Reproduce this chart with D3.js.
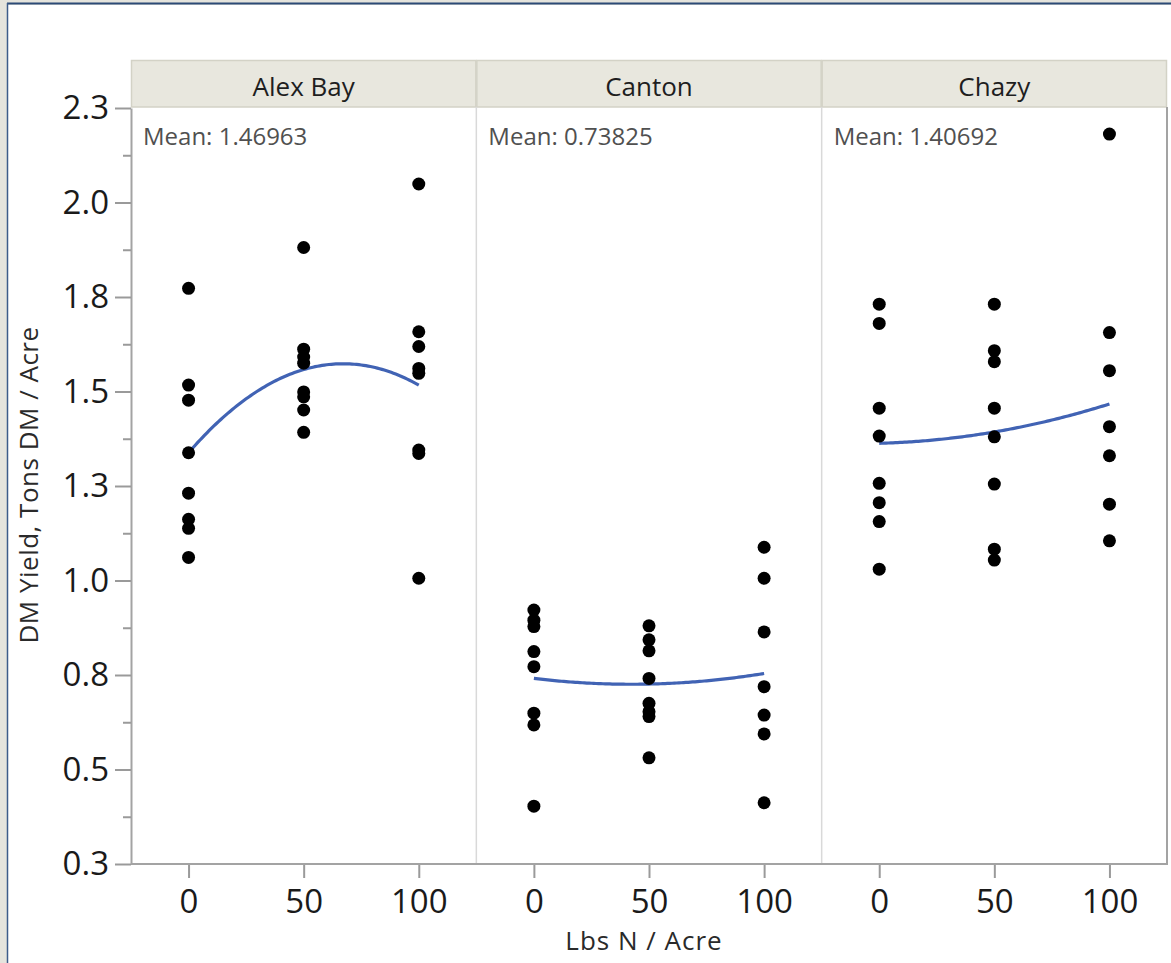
<!DOCTYPE html>
<html><head><meta charset="utf-8">
<script src="https://cdn.jsdelivr.net/npm/d3@7"></script>
<style>body{margin:0;background:#fff}svg{display:block}</style>
</head><body>
<svg id="c" width="1171" height="963"></svg>
<script>
// ---- data ----
const sites = ["Alex Bay", "Canton", "Chazy"];
const meanLabels = ["Mean: 1.46963", "Mean: 0.73825", "Mean: 1.40692"];
const nLevels = [0, 50, 100];
const xTickLabels = ["0", "50", "100"];
const yTickValues = [0.25, 0.5, 0.75, 1.0, 1.25, 1.5, 1.75, 2.0, 2.25];
const yTickLabels = ["0.3", "0.5", "0.8", "1.0", "1.3", "1.5", "1.8", "2.0", "2.3"];
const yMinorValues = [0.375, 0.625, 0.875, 1.125, 1.375, 1.625, 1.875, 2.125];

const alexBayN0   = [1.773, 1.517, 1.477, 1.338, 1.231, 1.162, 1.138, 1.061];
const alexBayN50  = [1.881, 1.612, 1.591, 1.575, 1.499, 1.486, 1.451, 1.392];
const alexBayN100 = [2.049, 1.658, 1.619, 1.561, 1.548, 1.345, 1.336, 1.006];
const cantonN0    = [0.922, 0.895, 0.878, 0.812, 0.772, 0.649, 0.618, 0.403];
const cantonN50   = [0.880, 0.843, 0.814, 0.741, 0.675, 0.653, 0.640, 0.531];
const cantonN100  = [1.088, 1.006, 0.864, 0.719, 0.644, 0.594, 0.412];
const chazyN0     = [1.731, 1.680, 1.456, 1.382, 1.257, 1.206, 1.156, 1.030];
const chazyN50    = [1.731, 1.608, 1.579, 1.456, 1.380, 1.255, 1.083, 1.054];
const chazyN100   = [2.181, 1.656, 1.555, 1.407, 1.330, 1.202, 1.105];

// quadratic fit values at N = 0, 50, 100
const fitAlexBay = [1.338, 1.558, 1.517];
const fitCanton  = [0.741, 0.726, 0.754];
const fitChazy   = [1.363, 1.393, 1.467];

const siteYields = [
  [alexBayN0, alexBayN50, alexBayN100],
  [cantonN0, cantonN50, cantonN100],
  [chazyN0, chazyN50, chazyN100]
];
const siteFits = [fitAlexBay, fitCanton, fitChazy];

// ---- layout ----
const svg = d3.select("#c");
const FONT = "'Open Sans', 'Noto Sans', sans-serif";
const plotL = 131, plotR = 1167, plotT = 108, plotB = 864, headT = 60;
const pw = (plotR - plotL) / 3;

// window frame
svg.append("rect").attr("width", 1171).attr("height", 963).attr("fill", "#e5e4dd");
svg.append("rect").attr("x", 8).attr("y", 5).attr("width", 1163).attr("height", 958).attr("fill", "#fff");
svg.append("line").attr("x1", 7).attr("x2", 1171).attr("y1", 3.5).attr("y2", 3.5)
  .attr("stroke", "#2c4a77").attr("stroke-width", 2);
svg.append("line").attr("x1", 7.5).attr("x2", 7.5).attr("y1", 3).attr("y2", 963)
  .attr("stroke", "#3d5c8a").attr("stroke-width", 1.5);

const y = d3.scaleLinear().domain([0.25, 2.25]).range([plotB, plotT]);

function lagrange(xs, ys, t) {
  let s = 0;
  for (let i = 0; i < 3; i++) {
    let p = ys[i];
    for (let j = 0; j < 3; j++) if (j !== i) p *= (t - xs[j]) / (xs[i] - xs[j]);
    s += p;
  }
  return s;
}

sites.forEach((name, i) => {
  const x0 = plotL + i * pw;
  const x = d3.scaleLinear().domain([-25, 125]).range([x0, x0 + pw]);
  const g = svg.append("g");

  // header strip
  g.append("rect").attr("x", x0 + 0.5).attr("y", headT + 0.5).attr("width", pw - 1).attr("height", plotT - headT - 1.5)
    .attr("fill", "#e8e7de").attr("stroke", "#d3d2c6").attr("stroke-width", 1.5);
  g.append("text").attr("x", x0 + pw / 2).attr("y", 96).attr("text-anchor", "middle")
    .attr("font-family", FONT).attr("font-size", 26).attr("fill", "#1e1e1e").text(name);

  // panel separator
  if (i > 0) {
    g.append("line").attr("x1", x0).attr("x2", x0).attr("y1", plotT - 1).attr("y2", plotB)
      .attr("stroke", "#d9d9d9").attr("stroke-width", 1.5);
  }

  // mean label
  g.append("text").attr("x", x0 + 12).attr("y", 145)
    .attr("font-family", FONT).attr("font-size", 24).attr("fill", "#505050").text(meanLabels[i]);

  // x axis
  const xa = g.append("g").attr("transform", `translate(0,${plotB})`)
    .call(d3.axisBottom(x).tickValues(nLevels).tickFormat((d, k) => xTickLabels[k])
      .tickSize(14).tickSizeOuter(0).tickPadding(12));
  xa.select(".domain").remove();
  xa.selectAll(".tick line").attr("stroke", "#9a9a9a").attr("stroke-width", 2);
  xa.selectAll(".tick text").attr("font-family", FONT).attr("font-size", 33).attr("fill", "#1a1a1a");

  // fit curve
  const fx = siteFits[i];
  const curvePts = d3.range(0, 100.5, 1).map(t => [t, lagrange(nLevels, fx, t)]);
  g.append("path").datum(curvePts)
    .attr("d", d3.line().x(d => x(d[0])).y(d => y(d[1])).curve(d3.curveLinear))
    .attr("fill", "none").attr("stroke", "#4163b4").attr("stroke-width", 3.2);

  // points
  siteYields[i].forEach((vals, k) => {
    g.selectAll(null).data(vals).enter().append("circle")
      .attr("cx", x(nLevels[k])).attr("cy", d => y(d)).attr("r", 6.5).attr("fill", "#000");
  });
});

// frame lines: bottom axis line and right border
svg.append("line").attr("x1", plotL).attr("x2", plotR).attr("y1", plotB).attr("y2", plotB)
  .attr("stroke", "#a3a3a3").attr("stroke-width", 2);
svg.append("line").attr("x1", plotR).attr("x2", plotR).attr("y1", plotT - 1).attr("y2", plotB + 1)
  .attr("stroke", "#a3a3a3").attr("stroke-width", 2);

// y axis
const ya = svg.append("g").attr("transform", `translate(${plotL},0)`)
  .call(d3.axisLeft(y).tickValues(yTickValues).tickFormat((d, k) => yTickLabels[k])
    .tickSize(16).tickSizeOuter(0).tickPadding(6));
ya.select(".domain").attr("stroke", "#a3a3a3").attr("stroke-width", 2);
ya.selectAll(".tick line").attr("stroke", "#9a9a9a").attr("stroke-width", 2);
ya.selectAll(".tick text").attr("font-family", FONT).attr("font-size", 33).attr("fill", "#1a1a1a");
const ym = svg.append("g").attr("transform", `translate(${plotL},0)`)
  .call(d3.axisLeft(y).tickValues(yMinorValues).tickFormat("").tickSize(8).tickSizeOuter(0));
ym.select(".domain").remove();
ym.selectAll(".tick line").attr("stroke", "#9a9a9a").attr("stroke-width", 2);

// axis titles
svg.append("text").attr("x", 644).attr("y", 950).attr("text-anchor", "middle")
  .attr("font-family", FONT).attr("font-size", 26).attr("letter-spacing", 1).attr("fill", "#2a2a2a").text("Lbs N / Acre");
svg.append("text").attr("transform", "translate(38,485) rotate(-90)").attr("text-anchor", "middle")
  .attr("font-family", FONT).attr("font-size", 26).attr("letter-spacing", 0.5).attr("fill", "#2a2a2a").text("DM Yield, Tons DM / Acre");
</script>
</body></html>
